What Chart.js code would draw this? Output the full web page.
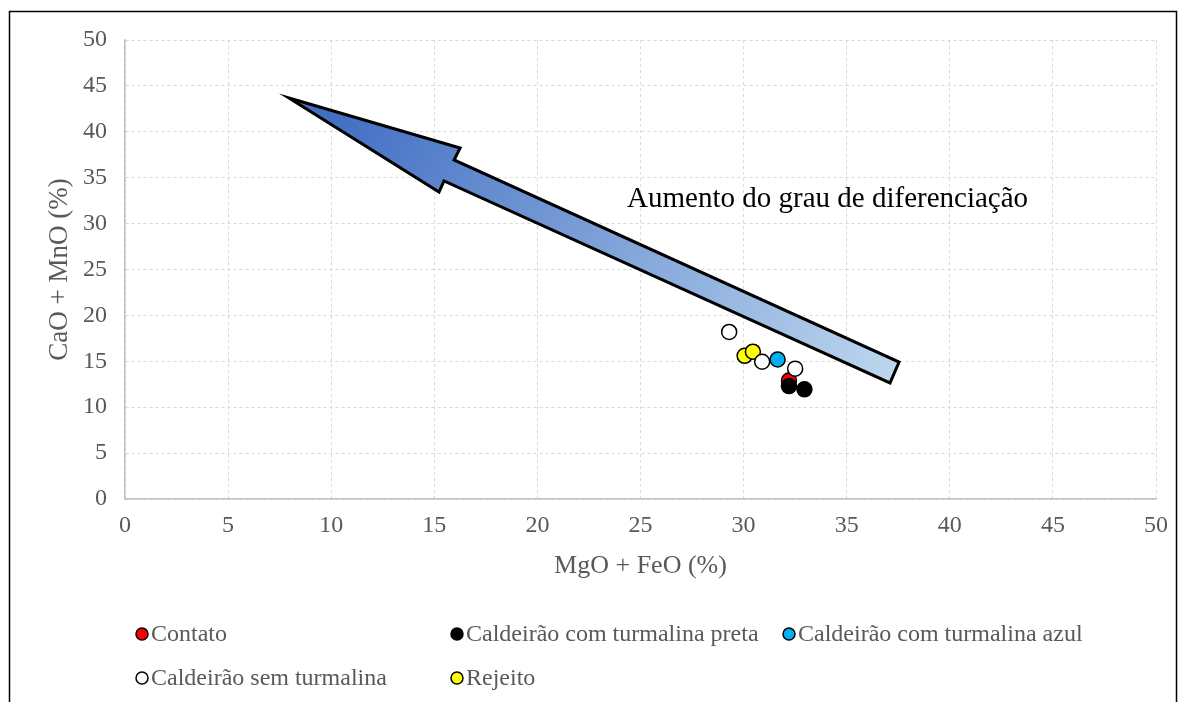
<!DOCTYPE html>
<html>
<head>
<meta charset="utf-8">
<style>
  html, body { margin: 0; padding: 0; background: #ffffff; }
  #wrap { width: 1186px; height: 702px; position: relative; }
</style>
<script src="https://cdn.jsdelivr.net/npm/chart.js@4.4.1/dist/chart.umd.min.js"></script>
</head>
<body>
<div id="wrap"><canvas id="chart" width="1186" height="702"></canvas></div>
<script>
    // Series values (x = MgO + FeO, y = CaO + MnO)
    const seriesNames = ['Contato', 'Caldeirão com turmalina preta', 'Caldeirão com turmalina azul', 'Caldeirão sem turmalina', 'Rejeito'];
    const contatoX = [32.2];
    const contatoY = [12.9];
    const pretaX = [32.2, 32.95];
    const pretaY = [12.3, 11.95];
    const azulX = [31.65];
    const azulY = [15.2];
    const semX = [29.3, 30.9, 32.5];
    const semY = [18.2, 14.95, 14.2];
    const rejeitoX = [30.05, 30.45];
    const rejeitoY = [15.6, 16.05];

    const tickValues = [0, 5, 10, 15, 20, 25, 30, 35, 40, 45, 50];

    // Arrow outline in data units, and annotation text
    const arrowX = [7.95, 16.25, 15.96, 37.54, 37.10, 15.47, 15.23];
    const arrowY = [43.68, 38.24, 36.93, 14.92, 12.64, 34.64, 33.44];
    const noteText = 'Aumento do grau de diferenciação';
    const noteAt = [24.35, 31.8];

    const fills = ['#ff0000', '#000000', '#00b0f0', '#ffffff', '#ffff00'];
    const drawOrder = [5, 1, 3, 2, 4];
    const legendPos = [[142, 634], [457, 634], [789, 634], [142, 678], [457, 678]];

    const serif = '"Liberation Serif", "Times New Roman", serif';

    function pairs(xs, ys) {
        return xs.map((x, i) => ({ x: x, y: ys[i] }));
    }

    const allSeries = [
        pairs(contatoX, contatoY),
        pairs(pretaX, pretaY),
        pairs(azulX, azulY),
        pairs(semX, semY),
        pairs(rejeitoX, rejeitoY)
    ];

    const datasets = allSeries.map((pts, i) => ({
        label: seriesNames[i],
        data: pts,
        backgroundColor: fills[i],
        borderColor: '#000000',
        borderWidth: 1.5,
        pointRadius: 7.5,
        order: drawOrder[i]
    }));

    const extras = {
        id: 'extras',
        beforeDatasetsDraw(chart) {
            const ctx = chart.ctx;
            const xs = chart.scales.x, ys = chart.scales.y;
            const px = arrowX.map(v => xs.getPixelForValue(v));
            const py = arrowY.map(v => ys.getPixelForValue(v));
            const grad = ctx.createLinearGradient(px[0] + 60, py[0], (px[3] + px[4]) / 2, (py[3] + py[4]) / 2 + 10);
            grad.addColorStop(0, '#4470c4');
            grad.addColorStop(1, '#bdd7ee');
            ctx.save();
            ctx.beginPath();
            ctx.moveTo(px[0], py[0]);
            for (let i = 1; i < px.length; i++) ctx.lineTo(px[i], py[i]);
            ctx.closePath();
            ctx.fillStyle = grad;
            ctx.fill();
            ctx.lineWidth = 3;
            ctx.lineJoin = 'miter';
            ctx.strokeStyle = '#000000';
            ctx.stroke();

            ctx.fillStyle = '#000000';
            ctx.font = '29px ' + serif;
            ctx.textBaseline = 'alphabetic';
            ctx.textAlign = 'left';
            ctx.fillText(noteText, xs.getPixelForValue(noteAt[0]), ys.getPixelForValue(noteAt[1]));
            ctx.restore();
        },
        afterDraw(chart) {
            const ctx = chart.ctx;
            ctx.save();
            // outer frame
            ctx.strokeStyle = '#000000';
            ctx.lineWidth = 1.5;
            ctx.strokeRect(9.5, 11.5, 1167, 720);

            // legend
            ctx.font = '24px ' + serif;
            ctx.textBaseline = 'middle';
            ctx.textAlign = 'left';
            chart.data.datasets.forEach((ds, i) => {
                const [lx, ly] = legendPos[i];
                ctx.beginPath();
                ctx.arc(lx, ly, 6, 0, Math.PI * 2);
                ctx.fillStyle = ds.backgroundColor;
                ctx.fill();
                ctx.lineWidth = 1.5;
                ctx.strokeStyle = '#000000';
                ctx.stroke();
                ctx.fillStyle = '#595959';
                ctx.fillText(ds.label, lx + 9, ly + 1);
            });
            ctx.restore();
        }
    };

    const gridStyle = {
        color: '#d9d9d9',
        lineWidth: 1,
        drawTicks: false
    };

    new Chart(document.getElementById('chart').getContext('2d'), {
        type: 'scatter',
        data: { datasets: datasets },
        options: {
            responsive: false,
            animation: false,
            layout: { padding: { left: 0, top: 40, right: 30, bottom: 119 } },
            plugins: {
                legend: { display: false },
                tooltip: { enabled: false }
            },
            scales: {
                x: {
                    type: 'linear',
                    min: 0,
                    max: 50,
                    afterBuildTicks(scale) { scale.ticks = tickValues.map(v => ({ value: v })); },
                    afterFit(scale) { scale.height = 84; },
                    grid: gridStyle,
                    border: { display: true, color: '#bfbfbf', width: 1.5, dash: [3, 3] },
                    ticks: {
                        padding: 12,
                        color: '#595959',
                        font: { family: serif, size: 24 },
                        maxRotation: 0
                    },
                    title: {
                        display: true,
                        text: 'MgO + FeO (%)',
                        color: '#595959',
                        font: { family: serif, size: 26 },
                        padding: { top: 0, bottom: 1 }
                    }
                },
                y: {
                    type: 'linear',
                    min: 0,
                    max: 50,
                    afterBuildTicks(scale) { scale.ticks = tickValues.map(v => ({ value: v })); },
                    afterFit(scale) { scale.width = 125; },
                    grid: gridStyle,
                    border: { display: true, color: '#bfbfbf', width: 1.5, dash: [3, 3] },
                    ticks: {
                        padding: 18,
                        color: '#595959',
                        font: { family: serif, size: 24 }
                    },
                    title: {
                        display: true,
                        text: 'CaO + MnO (%)',
                        color: '#595959',
                        font: { family: serif, size: 27 },
                        padding: { top: 44, bottom: 0 }
                    }
                }
            }
        },
        plugins: [extras]
    });
</script>
</body>
</html>
